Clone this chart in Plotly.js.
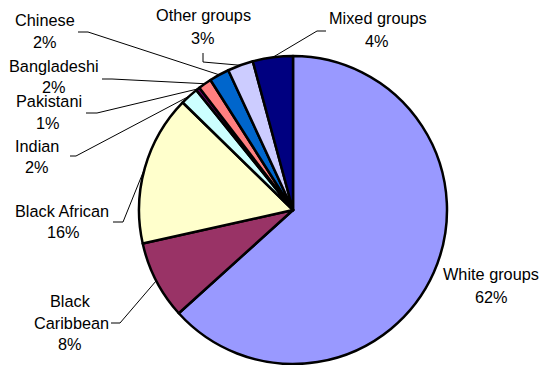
<!DOCTYPE html>
<html>
<head>
<meta charset="utf-8">
<script src="https://cdn.plot.ly/plotly-3.0.1.min.js"></script>
<style>html,body{margin:0;padding:0;background:#fff;}#chart{width:541px;height:365px;}</style>
</head>
<body>
<div id="chart"></div>
<script>
// ---- data ----
var categories = ["White groups", "Black Caribbean", "Black African", "Indian", "Pakistani", "Bangladeshi", "Chinese", "Other groups", "Mixed groups"];
var values = [63.3, 8.2, 15.8, 1.9, 0.4, 1.4, 2.1, 2.7, 4.2];
var pctLabels = ["62%", "8%", "16%", "2%", "1%", "2%", "2%", "3%", "4%"];
var sliceColors = ["#9999FF", "#993366", "#FFFFCC", "#CCFFFF", "#660066", "#FF8080", "#0066CC", "#CCCCFF", "#000080"];

// ---- layout (pixel positions of label text and leader lines) ----
var W = 541, H = 365;
var cx = 293, cy = 210, R = 154;
var labelLines = [
  [["White groups", 491, 274], ["%", 491, 297]],
  [["Black", 70, 301], ["Caribbean", 71, 323], ["%", 70, 344]],
  [["Black African", 62, 211], ["%", 63, 232]],
  [["Indian", 37, 146], ["%", 37, 167]],
  [["Pakistani", 49, 101], ["%", 48, 123]],
  [["Bangladeshi", 54, 66], ["%", 54, 87]],
  [["Chinese", 45, 20], ["%", 45, 42]],
  [["Other groups", 203, 15], ["%", 203, 38]],
  [["Mixed groups", 378, 18], ["%", 377, 41]]
];
// leader: [startX, startY, elbowX, elbowY] or null
var leaders = [
  null,
  [111, 323, 120, 323],
  [113, 222, 123, 222],
  [70, 156, 76, 156],
  [86, 113, 97, 113],
  [102, 79, 112, 79],
  [78, 32, 88, 32],
  [203, 53, 203, 62],
  [326, 31, 317, 31]
];

function px(x) { return x / W; }
function py(y) { return 1 - y / H; }

var total = values.reduce(function (a, b) { return a + b; }, 0);
var annotations = [];
var shapes = [];
var cum = 0;
for (var i = 0; i < values.length; i++) {
  var mid = (cum + values[i] / 2) / total * 2 * Math.PI;
  cum += values[i];
  var ex = cx + R * Math.sin(mid), ey = cy - R * Math.cos(mid);
  labelLines[i].forEach(function (ln) {
    annotations.push({
      text: ln[0] === "%" ? pctLabels[i] : ln[0],
      x: px(ln[1]), y: py(ln[2]), xref: "paper", yref: "paper",
      xanchor: "center", yanchor: "middle", showarrow: false,
      font: {family: "Liberation Sans, Arial, sans-serif", size: 16.3, color: "#000"}
    });
  });
  var L = leaders[i];
  if (L) {
    shapes.push({
      type: "path", xref: "paper", yref: "paper",
      path: "M " + px(L[0]) + "," + py(L[1]) + " L " + px(L[2]) + "," + py(L[3]) + " L " + px(ex) + "," + py(ey),
      line: {color: "#000", width: 1}
    });
  }
}

var trace = {
  type: "pie",
  labels: categories,
  values: values,
  sort: false,
  direction: "clockwise",
  rotation: 0,
  textinfo: "none",
  hoverinfo: "label+percent",
  marker: {colors: sliceColors, line: {color: "#000", width: 2.5}},
  domain: {x: [(cx - R) / W, (cx + R) / W], y: [py(cy + R), py(cy - R)]},
  showlegend: false
};

var layout = {
  width: W, height: H,
  margin: {l: 0, r: 0, t: 0, b: 0},
  paper_bgcolor: "#fff",
  plot_bgcolor: "#fff",
  showlegend: false,
  annotations: annotations,
  shapes: shapes
};

Plotly.newPlot("chart", [trace], layout, {displayModeBar: false, staticPlot: true});
</script>
</body>
</html>
